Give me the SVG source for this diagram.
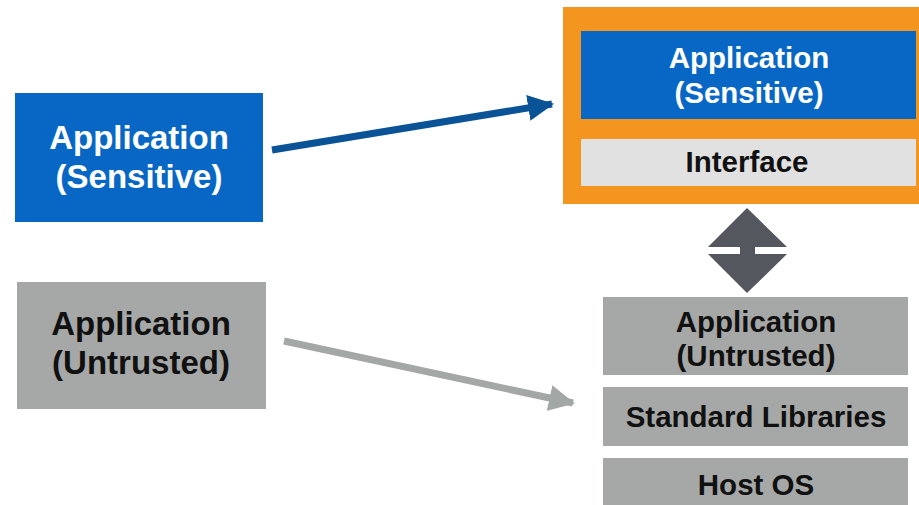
<svg xmlns="http://www.w3.org/2000/svg" width="919" height="505" viewBox="0 0 919 505">
  <style>
    .lbl { font-family: "Liberation Sans", Arial, sans-serif; font-weight: bold; text-anchor: middle; }
    .w { fill: #ffffff; }
    .k { fill: #111111; }
    .blue { fill: #0867c4; }
    .gray { fill: #a6a8a7; }
  </style>
  <defs>
    <marker id="headBlue" markerUnits="userSpaceOnUse" markerWidth="26" markerHeight="26" refX="24" refY="13" orient="auto">
      <path d="M0,0 L26,13 L0,26 Z" fill="#0b5397"/>
    </marker>
    <marker id="headGray" markerUnits="userSpaceOnUse" markerWidth="26" markerHeight="26" refX="24" refY="13" orient="auto">
      <path d="M0,0 L26,13 L0,26 Z" fill="#a3a7a5"/>
    </marker>
  </defs>
  <rect width="919" height="505" fill="#ffffff"/>

  <g id="left-sensitive">
    <rect class="blue" x="15" y="93" width="248" height="129"/>
    <text class="lbl w" font-size="33" x="139" y="149">Application</text>
    <text class="lbl w" font-size="33" x="139" y="188">(Sensitive)</text>
  </g>

  <g id="left-untrusted">
    <rect class="gray" x="17" y="282" width="249" height="127"/>
    <text class="lbl k" font-size="33" x="141" y="335">Application</text>
    <text class="lbl k" font-size="33" x="141" y="374">(Untrusted)</text>
  </g>

  <g id="enclave">
    <rect x="563" y="7" width="358" height="197" fill="#f3951e"/>
    <rect class="blue" x="581" y="31" width="335" height="88"/>
    <text class="lbl w" font-size="29.5" x="749" y="68">Application</text>
    <text class="lbl w" font-size="29.5" x="749" y="103">(Sensitive)</text>
    <rect x="581" y="139" width="335" height="47" fill="#e1e1e1"/>
    <text class="lbl k" font-size="29.5" x="747" y="172">Interface</text>
  </g>

  <g id="host-app">
    <rect class="gray" x="603" y="297" width="305" height="78"/>
    <text class="lbl k" font-size="29.5" x="756" y="332">Application</text>
    <text class="lbl k" font-size="29.5" x="756" y="366">(Untrusted)</text>
  </g>

  <g id="std-libs">
    <rect class="gray" x="603" y="387" width="305" height="59"/>
    <text class="lbl k" font-size="29.5" x="756" y="427">Standard Libraries</text>
  </g>

  <g id="host-os">
    <rect class="gray" x="603" y="458" width="305" height="50"/>
    <text class="lbl k" font-size="29.5" x="756" y="495">Host OS</text>
  </g>

  <g id="connectors">
    <line x1="272" y1="150" x2="552" y2="104" stroke="#0b5397" stroke-width="7" marker-end="url(#headBlue)"/>
    <line x1="284" y1="341" x2="573" y2="403" stroke="#a3a7a5" stroke-width="7" marker-end="url(#headGray)"/>
    <path d="M747,208 L787,247 L755,247 L755,254 L787,254 L747,293 L708,254 L740,254 L740,247 L708,247 Z" fill="#54575d"/>
  </g>
</svg>
